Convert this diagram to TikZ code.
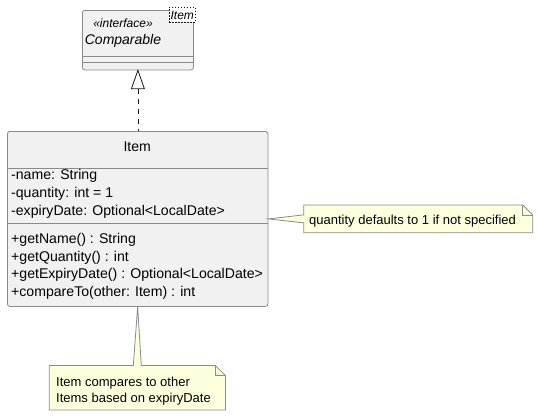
\documentclass[tikz,border=0pt]{standalone}
\usepackage{fontspec}
\setmainfont{Liberation Sans}
\definecolor{classfill}{HTML}{F1F1F1}
\definecolor{lineclr}{HTML}{8A8A8A}
\definecolor{arrowclr}{HTML}{181818}
\definecolor{notefill}{HTML}{FEFFDD}
\begin{document}
\begin{tikzpicture}[x=1pt,y=-1pt,
  box/.style={draw=lineclr, fill=classfill, line width=0.8pt, rounded corners=2.5pt, inner sep=0pt, anchor=north west},
  member/.style={font=\fontsize{14.1}{16}\selectfont, anchor=base west, inner sep=0pt},
  title/.style={font=\fontsize{14.1}{16}\selectfont, anchor=base, inner sep=0pt},
  ititle/.style={font=\fontsize{14}{16}\selectfont\itshape, anchor=base, inner sep=0pt},
  stereo/.style={font=\fontsize{12}{14}\selectfont\itshape, anchor=base, inner sep=0pt},
  sep/.style={draw=lineclr, line width=0.8pt},
  notetxt/.style={font=\fontsize{13}{15}\selectfont, anchor=base west, inner sep=0pt},
  notearea/.style={inner sep=0pt, anchor=north west},
  noteshape/.style={draw=lineclr, fill=notefill, line width=0.8pt, line join=miter},
  conn/.style={draw=arrowclr, line width=0.8pt}]
\useasboundingbox (0,0) rectangle (537,416);

% Comparable interface
\node[box, minimum width=111pt, minimum height=59.5pt] (comp) at (82,10) {};
\draw[sep] (comp.west |- 0,56) -- (comp.east |- 0,56);
\draw[sep] (comp.west |- 0,62.5) -- (comp.east |- 0,62.5);
\node[stereo] (compstereo) at (123,27.3) {«interface»};
\node[ititle] (compname) at (123,44.5) {Comparable};
\node[draw=arrowclr, fill=white, dash pattern=on 1.5pt off 1.5pt, line width=0.6pt,
      minimum width=26pt, minimum height=15pt, inner sep=0pt, anchor=north west] (tag) at (169,7) {};
\node[stereo] (tagtxt) at (182.3,19.3) {Item};

% Item class
\node[box, minimum width=260.5pt, minimum height=175pt] (item) at (7,131) {};
\draw[sep] (item.west |- 0,168) -- (item.east |- 0,168);
\draw[sep] (item.west |- 0,223) -- (item.east |- 0,223);
\node[title] (itemname) at (137.25,151.5) {Item};
\node[member] (a1) at (11,179.5) {-name: String};
\node[member] (a2) at (11,197.3) {-quantity: int = 1};
\node[member] (a3) at (11,215) {-expiryDate: Optional<LocalDate>};
\node[member] (m1) at (11,243.3) {+getName() : String};
\node[member] (m2) at (11,261) {+getQuantity() : int};
\node[member] (m3) at (11,278.8) {+getExpiryDate() : Optional<LocalDate>};
\node[member] (m4) at (11,296.6) {+compareTo(other: Item) : int};

% realization
\coordinate (tribase) at ([yshift=-18.5pt]comp.south);
\draw[conn, dash pattern=on 5pt off 5pt] (tribase) -- (item.north -| tribase);
\draw[conn, fill=white, line join=miter] (comp.south) -- ([xshift=-6.5pt]tribase) -- ([xshift=6.5pt]tribase) -- cycle;

% note 1
\node[notearea, minimum width=228.6pt, minimum height=27.3pt] (note1) at (303.7,205) {};
\path[noteshape] (note1.north west) -- ([xshift=-10pt]note1.north east) -- ([yshift=-10pt]note1.north east)
  -- (note1.south east) -- (note1.south west) -- ([yshift=-4pt]note1.west) -- (item.east)
  -- ([yshift=4pt]note1.west) -- cycle;
\draw[noteshape, fill=none] ([xshift=-10pt]note1.north east) -- ([xshift=-10pt,yshift=-10pt]note1.north east) -- ([yshift=-10pt]note1.north east);
\node[notetxt] (n1txt) at (309,224.5) {quantity defaults to 1 if not specified};

% note 2
\node[notearea, minimum width=175.7pt, minimum height=44pt] (note2) at (49.3,365.5) {};
\path[noteshape] (note2.north west) -- ([xshift=84pt]note2.north west) -- (item.south)
  -- ([xshift=92pt]note2.north west) -- ([xshift=-10pt]note2.north east) -- ([yshift=-10pt]note2.north east)
  -- (note2.south east) -- (note2.south west) -- cycle;
\draw[noteshape, fill=none] ([xshift=-10pt]note2.north east) -- ([xshift=-10pt,yshift=-10pt]note2.north east) -- ([yshift=-10pt]note2.north east);
\node[notetxt] (n2a) at (56,386.5) {Item compares to other};
\node[notetxt] (n2b) at (56,402) {Items based on expiryDate};
\end{tikzpicture}
\end{document}
